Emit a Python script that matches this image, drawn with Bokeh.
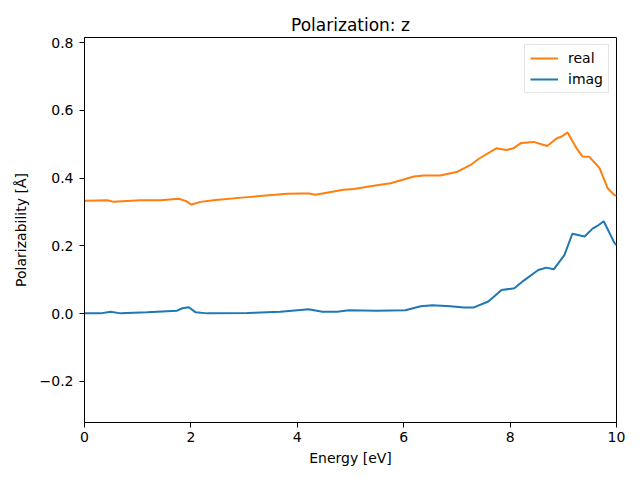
from bokeh.plotting import figure
from bokeh.models import Range1d, FixedTicker, Legend, LegendItem, ColumnDataSource
from bokeh.embed import file_html
from bokeh.resources import INLINE

# Data
real_energy = [0.0, 0.43, 0.55, 1.05, 1.43, 1.77, 1.90, 2.01, 2.18, 2.42, 3.06, 3.81, 4.06, 4.22,
               4.34, 4.87, 5.06, 5.50, 5.75, 6.00, 6.19, 6.38, 6.69, 7.01, 7.26, 7.42, 7.74,
               7.93, 8.06, 8.21, 8.44, 8.70, 8.87, 8.97, 9.08, 9.25, 9.36, 9.49, 9.68, 9.83,
               9.96, 10.0]
real_values = [0.333, 0.335, 0.330, 0.335, 0.335, 0.339, 0.333, 0.322, 0.330, 0.335, 0.344,
               0.354, 0.355, 0.355, 0.351, 0.366, 0.368, 0.379, 0.385, 0.396, 0.405, 0.408,
               0.408, 0.419, 0.439, 0.458, 0.488, 0.483, 0.488, 0.504, 0.507, 0.495, 0.517,
               0.523, 0.535, 0.488, 0.464, 0.463, 0.430, 0.371, 0.350, 0.348]

imag_energy = [0.0, 0.30, 0.49, 0.68, 1.18, 1.74, 1.84, 1.96, 2.09, 2.31, 3.06, 3.68, 4.06,
               4.21, 4.47, 4.75, 4.97, 5.50, 6.03, 6.32, 6.54, 6.88, 7.13, 7.31, 7.59, 7.84,
               8.08, 8.25, 8.53, 8.68, 8.82, 9.02, 9.17, 9.40, 9.55, 9.64, 9.76, 9.96, 10.0]
imag_values = [0.001, 0.001, 0.006, 0.001, 0.004, 0.009, 0.016, 0.019, 0.004, 0.001, 0.002,
               0.006, 0.011, 0.013, 0.006, 0.006, 0.010, 0.009, 0.010, 0.022, 0.025, 0.022,
               0.018, 0.018, 0.036, 0.070, 0.075, 0.097, 0.129, 0.136, 0.131, 0.173, 0.236,
               0.228, 0.251, 0.259, 0.273, 0.209, 0.203]

x_ticks = [0, 2, 4, 6, 8, 10]
y_ticks = [-0.2, 0.0, 0.2, 0.4, 0.6, 0.8]
y_tick_labels = ["\u22120.2", "0.0", "0.2", "0.4", "0.6", "0.8"]

FONT = "DejaVu Sans"

p = figure(width=632, height=472, output_backend="svg", toolbar_location=None,
           x_range=Range1d(0, 10), y_range=Range1d(-0.321, 0.815),
           min_border_left=84, min_border_right=16, min_border_top=37, min_border_bottom=50,
           title="Polarization: z")

p.title.align = "center"
p.title.text_font = FONT
p.title.text_font_size = "17px"
p.title.text_font_style = "normal"
p.title.text_color = "black"
p.title.standoff = 6

p.xgrid.visible = False
p.ygrid.visible = False
p.outline_line_color = "black"
p.outline_line_width = 1
p.outline_line_alpha = 1
p.background_fill_color = "white"
p.border_fill_color = "white"

for ax in (p.xaxis[0], p.yaxis[0]):
    ax.major_tick_in = 0
    ax.major_tick_out = 5
    ax.minor_tick_in = 0
    ax.minor_tick_out = 0
    ax.axis_line_color = "black"
    ax.major_tick_line_color = "black"
    ax.major_label_text_font = FONT
    ax.major_label_text_font_size = "14px"
    ax.major_label_text_color = "black"
    ax.axis_label_text_font = FONT
    ax.axis_label_text_font_size = "14px"
    ax.axis_label_text_font_style = "normal"
    ax.axis_label_text_color = "black"

p.xaxis[0].ticker = FixedTicker(ticks=x_ticks)
p.xaxis[0].major_label_overrides = {t: str(t) for t in x_ticks}
p.yaxis[0].ticker = FixedTicker(ticks=y_ticks)
p.yaxis[0].major_label_overrides = {t: l for t, l in zip(y_ticks, y_tick_labels)}
p.xaxis[0].axis_label = "Energy [eV]"
p.yaxis[0].axis_label = "Polarizability [\u00c5]"
p.xaxis[0].major_label_standoff = 4
p.yaxis[0].major_label_standoff = 6
p.xaxis[0].axis_label_standoff = 5
p.yaxis[0].axis_label_standoff = 8

src_real = ColumnDataSource(dict(x=real_energy, y=real_values))
src_imag = ColumnDataSource(dict(x=imag_energy, y=imag_values))
r_real = p.line("x", "y", source=src_real, line_color="#ff7f0e", line_width=2)
r_imag = p.line("x", "y", source=src_imag, line_color="#1f77b4", line_width=2)

legend = Legend(items=[LegendItem(label="real", renderers=[r_real]),
                       LegendItem(label="imag", renderers=[r_imag])],
                location="top_right")
legend.label_text_font = FONT
legend.label_text_font_size = "14px"
legend.label_text_color = "black"
legend.glyph_width = 28
legend.glyph_height = 16
legend.label_height = 16
legend.label_standoff = 10
legend.spacing = 5
legend.padding = 5
legend.margin = 7
legend.border_line_color = "#cccccc"
legend.border_line_width = 1
legend.background_fill_alpha = 0.8
p.add_layout(legend)

open("out.html", "w").write(file_html(p, INLINE))
